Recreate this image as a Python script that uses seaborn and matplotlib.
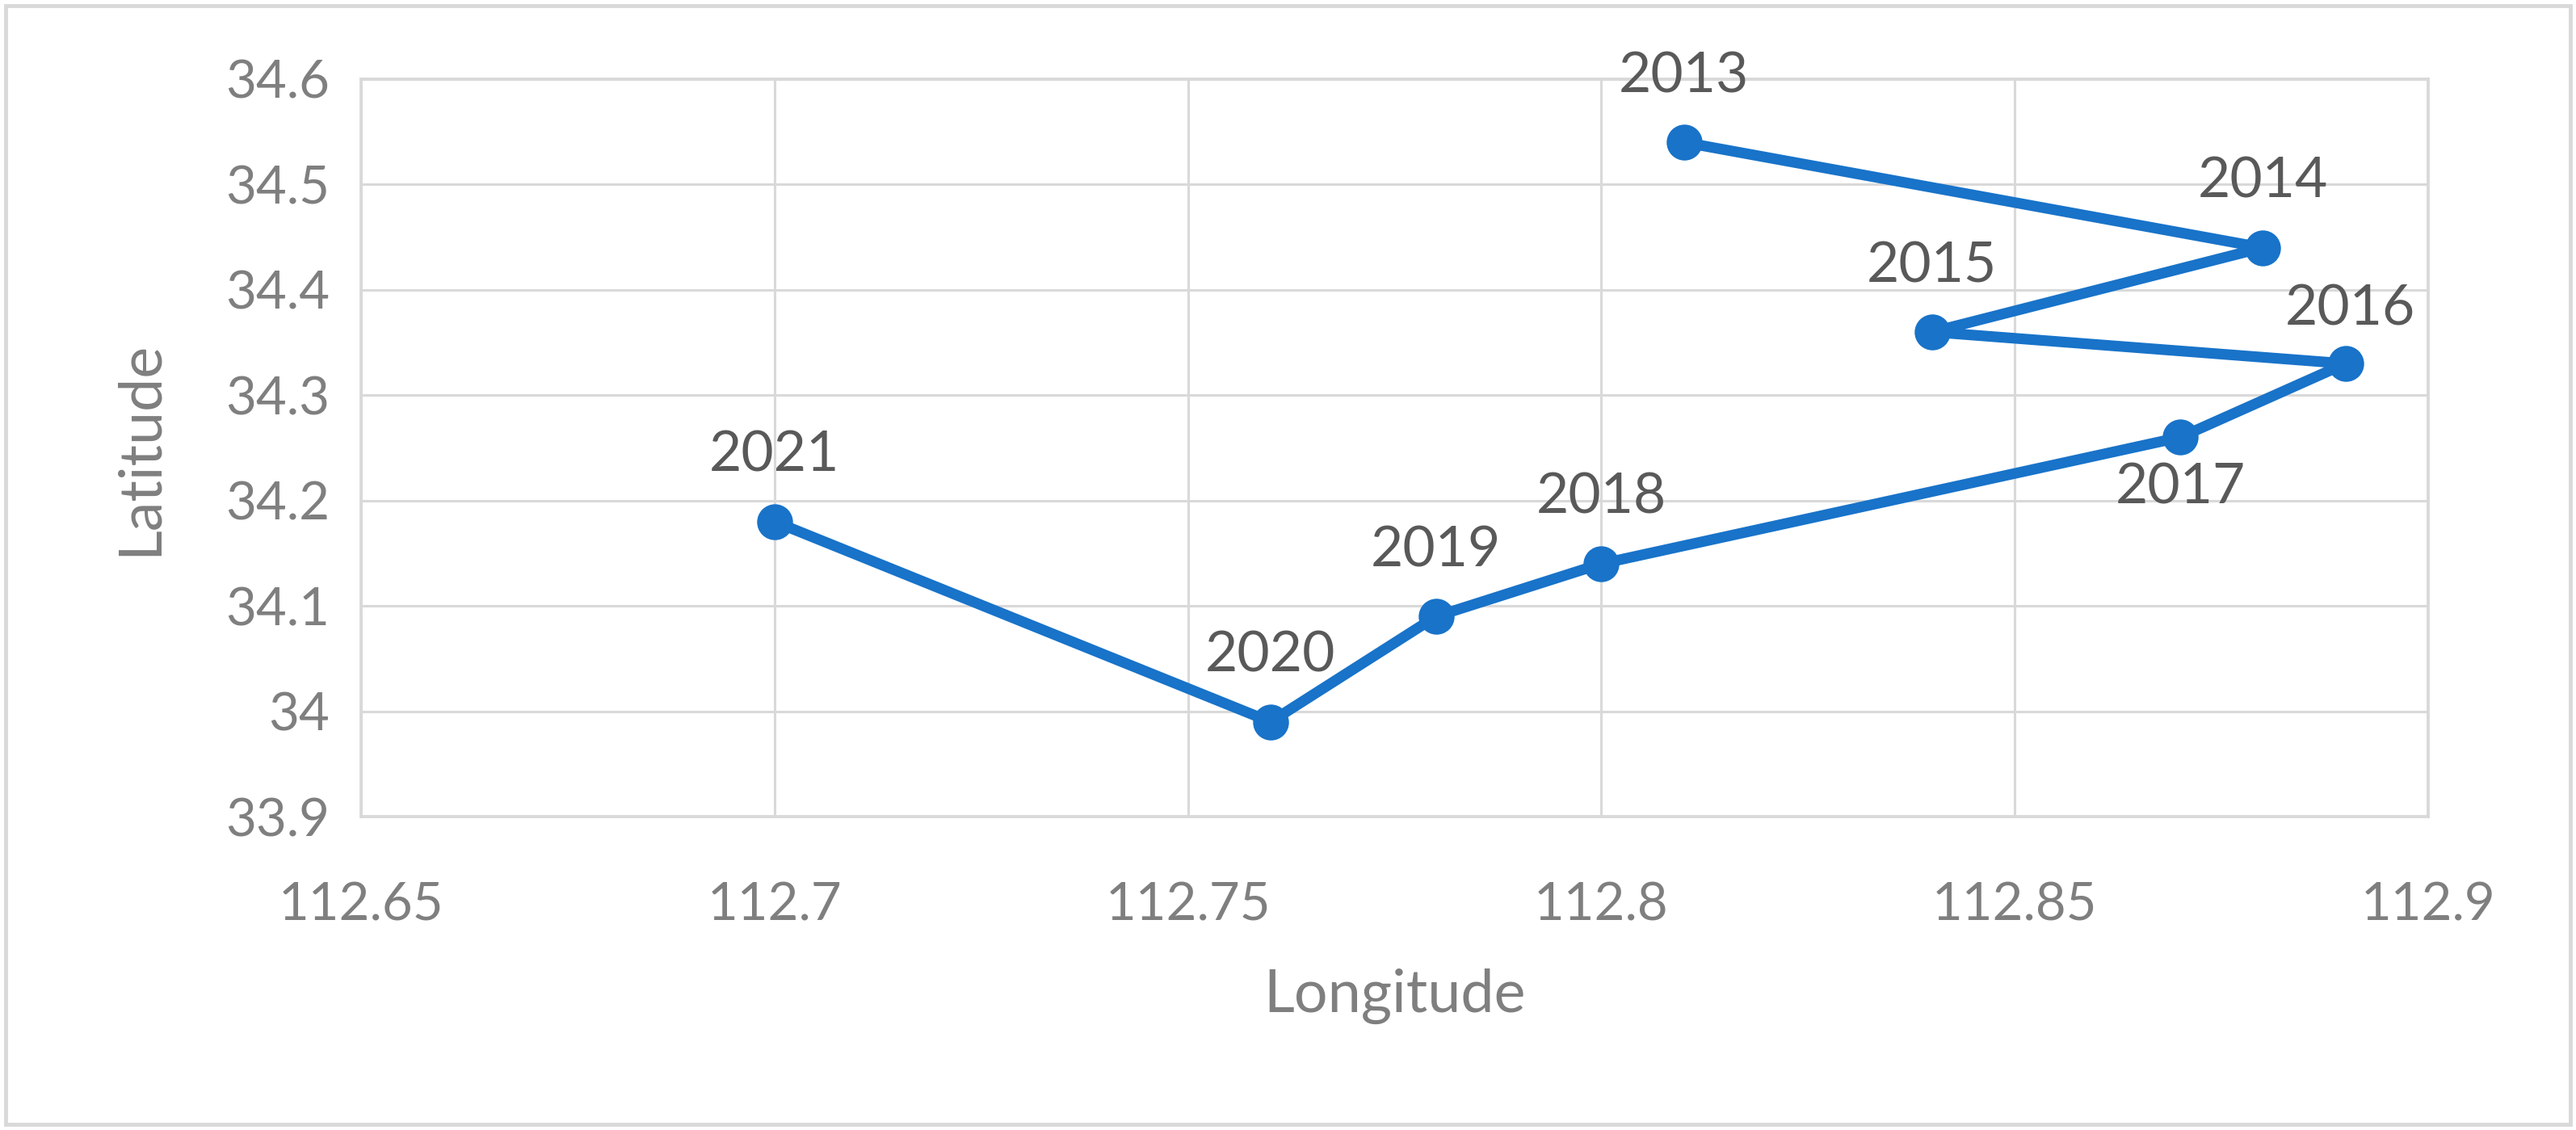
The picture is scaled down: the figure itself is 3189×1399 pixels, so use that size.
import numpy as np
import pandas as pd
import seaborn as sns
import matplotlib.pyplot as plt
from matplotlib.patches import Rectangle
from matplotlib.ticker import FuncFormatter, MultipleLocator

# data
years = [2013, 2014, 2015, 2016, 2017, 2018, 2019, 2020, 2021]
longitude = [112.81, 112.88, 112.84, 112.89, 112.87, 112.80, 112.78, 112.76, 112.70]
latitude = [34.54, 34.44, 34.36, 34.33, 34.26, 34.14, 34.09, 33.99, 34.18]

df = pd.DataFrame({"year": years, "Longitude": longitude, "Latitude": latitude})

sns.set_theme(style="whitegrid")
plt.rcParams['font.family'] = ['Lato', 'DejaVu Sans']

LINE_BLUE = "#1873c9"
GRID = "#d9d9d9"
TICK_GREY = "#7f7f7f"
LABEL_GREY = "#595959"

fig = plt.figure(figsize=(31.89, 13.99), dpi=100)
ax = fig.add_axes([0.1402, 0.2773, 0.8024, 0.6527])

sns.lineplot(data=df, x="Longitude", y="Latitude", sort=False, ax=ax,
             color=LINE_BLUE, linewidth=9.5, marker="o", markersize=32,
             markeredgewidth=0, markerfacecolor=LINE_BLUE)

# data labels: above the point except 2017 which sits below
for yr, lon, lat in zip(years, longitude, latitude):
    if yr == 2017:
        off, va = (0, -22), "top"
    elif yr == 2016:
        off, va = (4, 26), "bottom"
    else:
        off, va = (0, 36), "bottom"
    ax.annotate(str(yr), (lon, lat), xytext=off, textcoords="offset points",
                ha="center", va=va, fontsize=50, color=LABEL_GREY)

ax.set_xlim(112.65, 112.9)
ax.set_ylim(33.9, 34.6)
ax.xaxis.set_major_locator(MultipleLocator(0.05))
ax.yaxis.set_major_locator(MultipleLocator(0.1))
fmt = FuncFormatter(lambda v, p: "{:g}".format(round(v, 2)))
ax.xaxis.set_major_formatter(fmt)
ax.yaxis.set_major_formatter(fmt)

ax.grid(True, color=GRID, linewidth=2.2)
for s in ax.spines.values():
    s.set_visible(True)
    s.set_color(GRID)
    s.set_linewidth(2.8)
ax.tick_params(axis="both", length=0, labelsize=47, labelcolor=TICK_GREY)
ax.tick_params(axis="x", pad=58)
ax.tick_params(axis="y", pad=28)

ax.set_xlabel("Longitude", fontsize=53, color=TICK_GREY)
ax.set_ylabel("Latitude", fontsize=53, color=TICK_GREY)
ax.xaxis.set_label_coords(0.5, -0.243)
ax.yaxis.set_label_coords(-0.107, 0.5)
ax.xaxis.label.set_va("center")
ax.yaxis.label.set_va("center")

# chart area border
fig.patches.append(Rectangle((7 / 3189, 7 / 1399), 3175 / 3189, 1385 / 1399,
                             transform=fig.transFigure, fill=False,
                             edgecolor=GRID, linewidth=3.5))

fig.savefig("out.png", dpi=100)
